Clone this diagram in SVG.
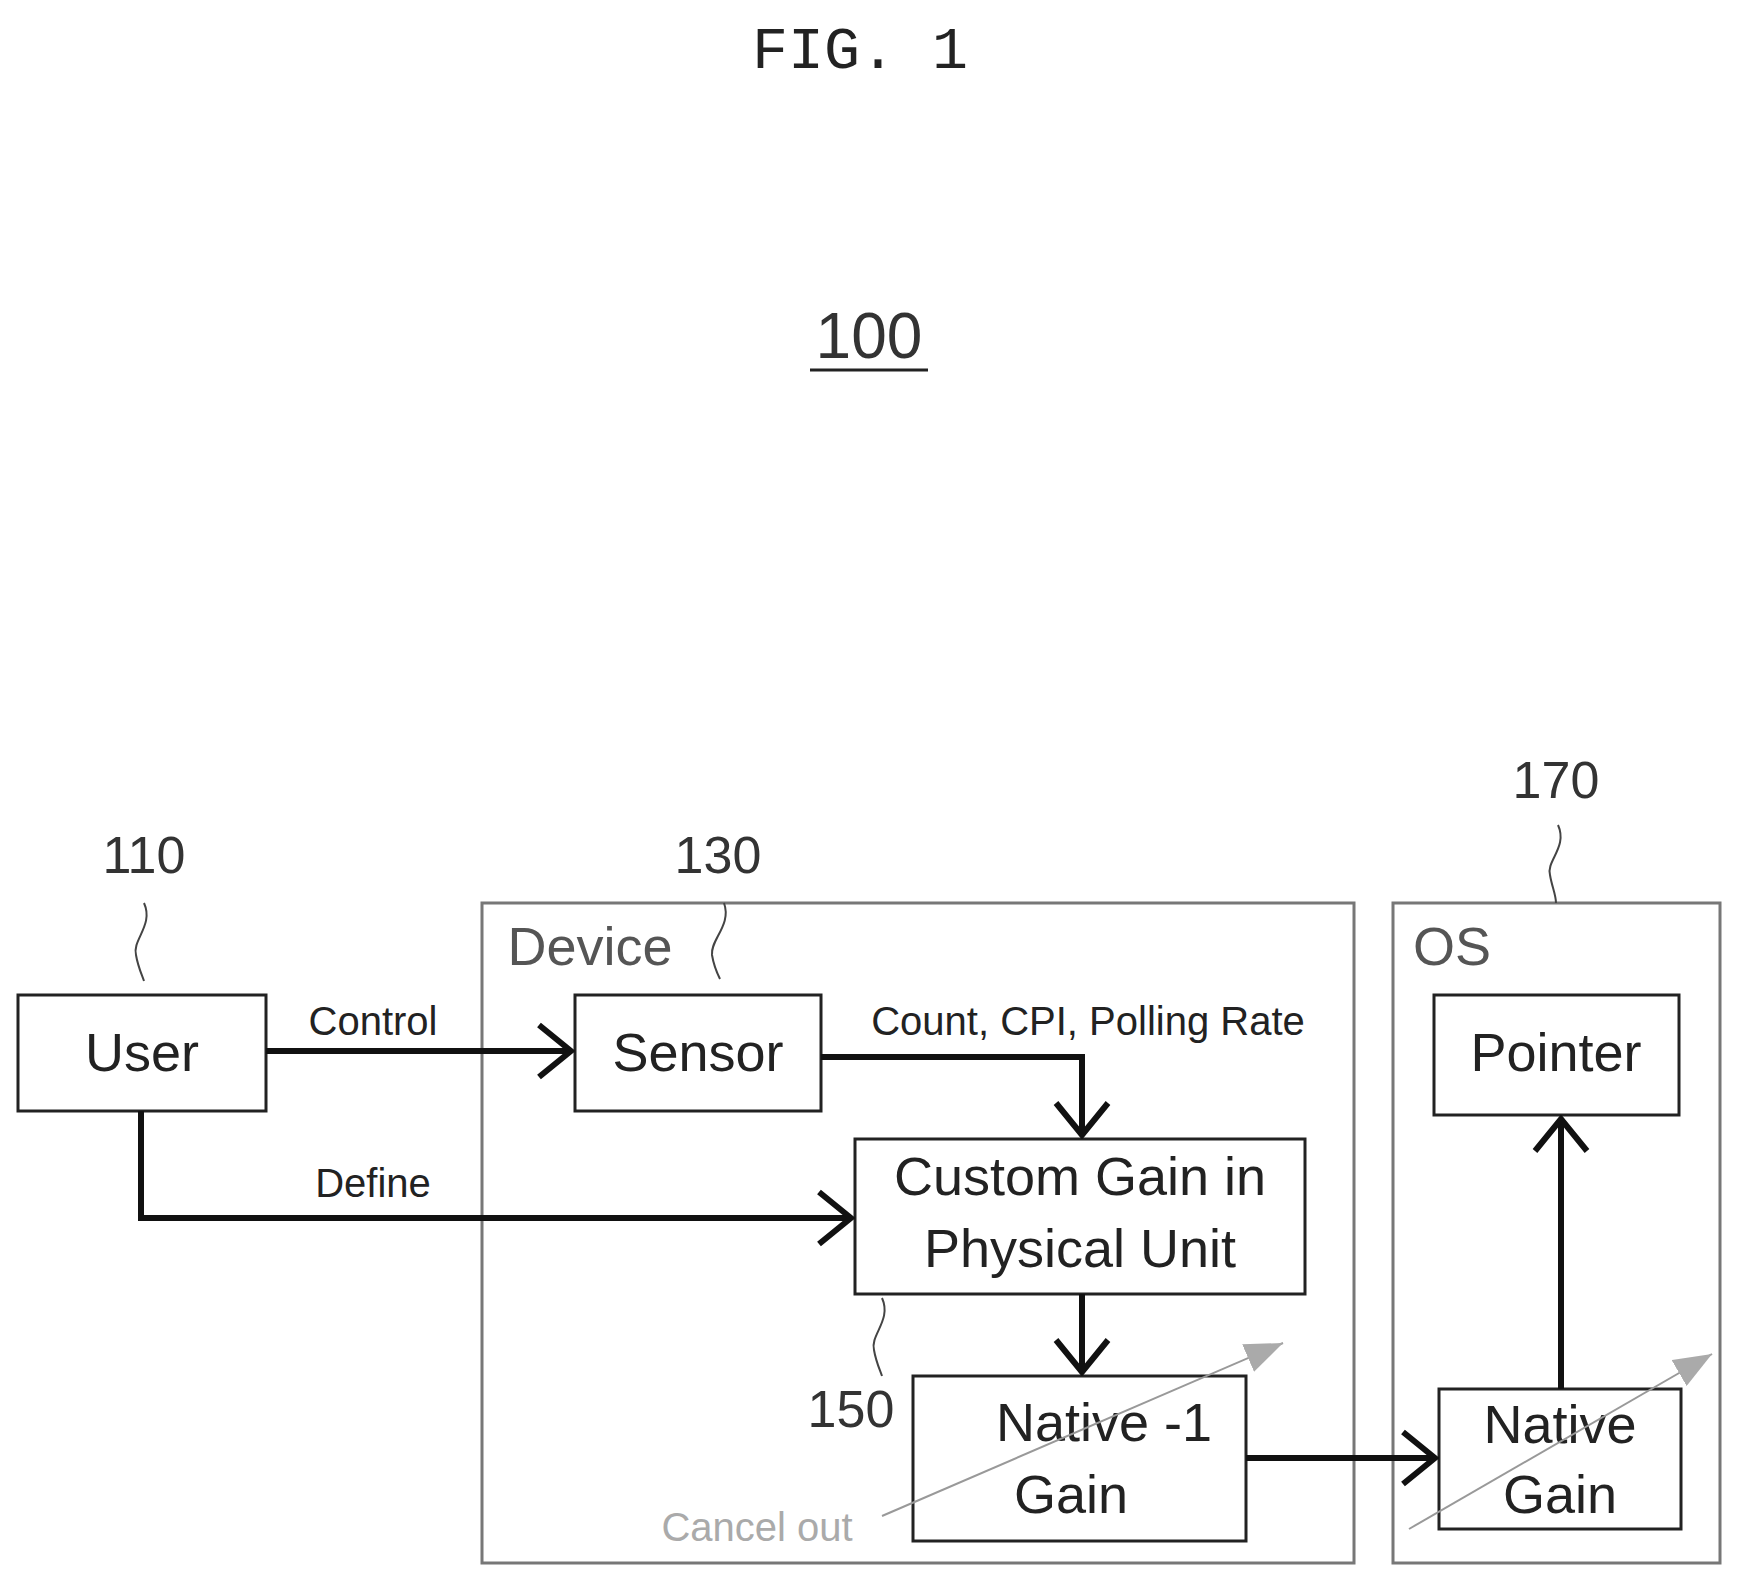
<svg xmlns="http://www.w3.org/2000/svg" width="1738" height="1584" viewBox="0 0 1738 1584">
<style>
text{font-family:"Liberation Sans",Arial,sans-serif;fill:#222}
.box{fill:#fff;stroke:#222;stroke-width:3}
.frame{fill:none;stroke:#777;stroke-width:3}
.big{font-size:54px;text-anchor:middle}
.num{font-size:52px;text-anchor:middle;fill:#333}
.lbl{font-size:40px;text-anchor:middle}
.conn{fill:none;stroke:#111;stroke-width:6}
.sq{fill:none;stroke:#444;stroke-width:2}
.gray{fill:none;stroke:#999;stroke-width:2}
</style>
<defs>
<marker id="ga" markerWidth="40" markerHeight="30" refX="38" refY="15" orient="auto" markerUnits="userSpaceOnUse"><path d="M0,0 L38,15 L0,30 Z" fill="#aaa"/></marker>
<marker id="oa" markerWidth="40" markerHeight="60" refX="36" refY="30" orient="auto" markerUnits="userSpaceOnUse"><path d="M4,4 L36,30 L4,56" fill="none" stroke="#111" stroke-width="6"/></marker>
</defs>
<text x="860" y="68" style="font-family:'Liberation Mono',monospace;font-size:60px" text-anchor="middle">FIG. 1</text>
<g id="label100"><text x="869" y="358" class="num" style="font-size:64px">100</text><line x1="810" y1="370" x2="928" y2="370" stroke="#222" stroke-width="3"/></g>
<g transform="translate(-4,-5)">
<g id="device"><rect class="frame" x="486" y="908" width="872" height="660"/><text x="594" y="970" class="big" style="fill:#555">Device</text></g>
<g id="os"><rect class="frame" x="1397" y="908" width="327" height="660"/><text x="1456" y="970" class="big" style="fill:#555">OS</text></g>
<g id="user"><rect class="box" x="22" y="1000" width="248" height="116"/><text x="146" y="1076" class="big">User</text></g>
<g id="sensor"><rect class="box" x="579" y="1000" width="246" height="116"/><text x="702" y="1076" class="big">Sensor</text></g>
<g id="custom"><rect class="box" x="859" y="1144" width="450" height="155"/><text x="1084" y="1200" class="big">Custom Gain in</text><text x="1084" y="1272" class="big">Physical Unit</text></g>
<g id="native-inv"><rect class="box" x="917" y="1381" width="333" height="165"/><text x="1108" y="1446" class="big">Native -1</text><text x="1075" y="1518" class="big">Gain</text></g>
<g id="pointer"><rect class="box" x="1438" y="1000" width="245" height="120"/><text x="1560" y="1076" class="big">Pointer</text></g>
<g id="native"><rect class="box" x="1443" y="1394" width="242" height="140"/><text x="1564" y="1448" class="big">Native</text><text x="1564" y="1518" class="big">Gain</text></g>
<g id="refs">
<text x="148" y="878" class="num">110</text><path class="sq" d="M148,908 C158,930 136,945 140,960 C142,972 146,980 148,986"/>
<text x="722" y="878" class="num">130</text><path class="sq" d="M728,908 C736,930 714,945 716,960 C718,972 722,980 724,984"/>
<text x="1560" y="803" class="num">170</text><path class="sq" d="M1562,830 C1572,852 1550,866 1554,880 C1556,892 1560,900 1560,908"/>
<text x="855" y="1432" class="num">150</text><path class="sq" d="M886,1303 C896,1325 874,1340 878,1355 C880,1367 884,1375 886,1381"/>
</g>
<g id="connectors">
<path class="conn" d="M270,1056 H575" marker-end="url(#oa)"/>
<path class="conn" d="M145,1116 V1223 H855" marker-end="url(#oa)"/>
<path class="conn" d="M825,1062 H1086 V1140" marker-end="url(#oa)"/>
<path class="conn" d="M1086,1299 V1377" marker-end="url(#oa)"/>
<path class="conn" d="M1250,1463 H1439" marker-end="url(#oa)"/>
<path class="conn" d="M1565,1394 V1124" marker-end="url(#oa)"/>
<text x="377" y="1040" class="lbl">Control</text>
<text x="377" y="1202" class="lbl">Define</text>
<text x="1092" y="1040" class="lbl">Count, CPI, Polling Rate</text>
<path class="gray" d="M886,1521 L1287,1348" marker-end="url(#ga)"/>
<path class="gray" d="M1413,1534 L1716,1359" marker-end="url(#ga)"/>
<text x="761" y="1546" class="lbl" style="fill:#aaa">Cancel out</text>
</g>
</g>
</svg>
